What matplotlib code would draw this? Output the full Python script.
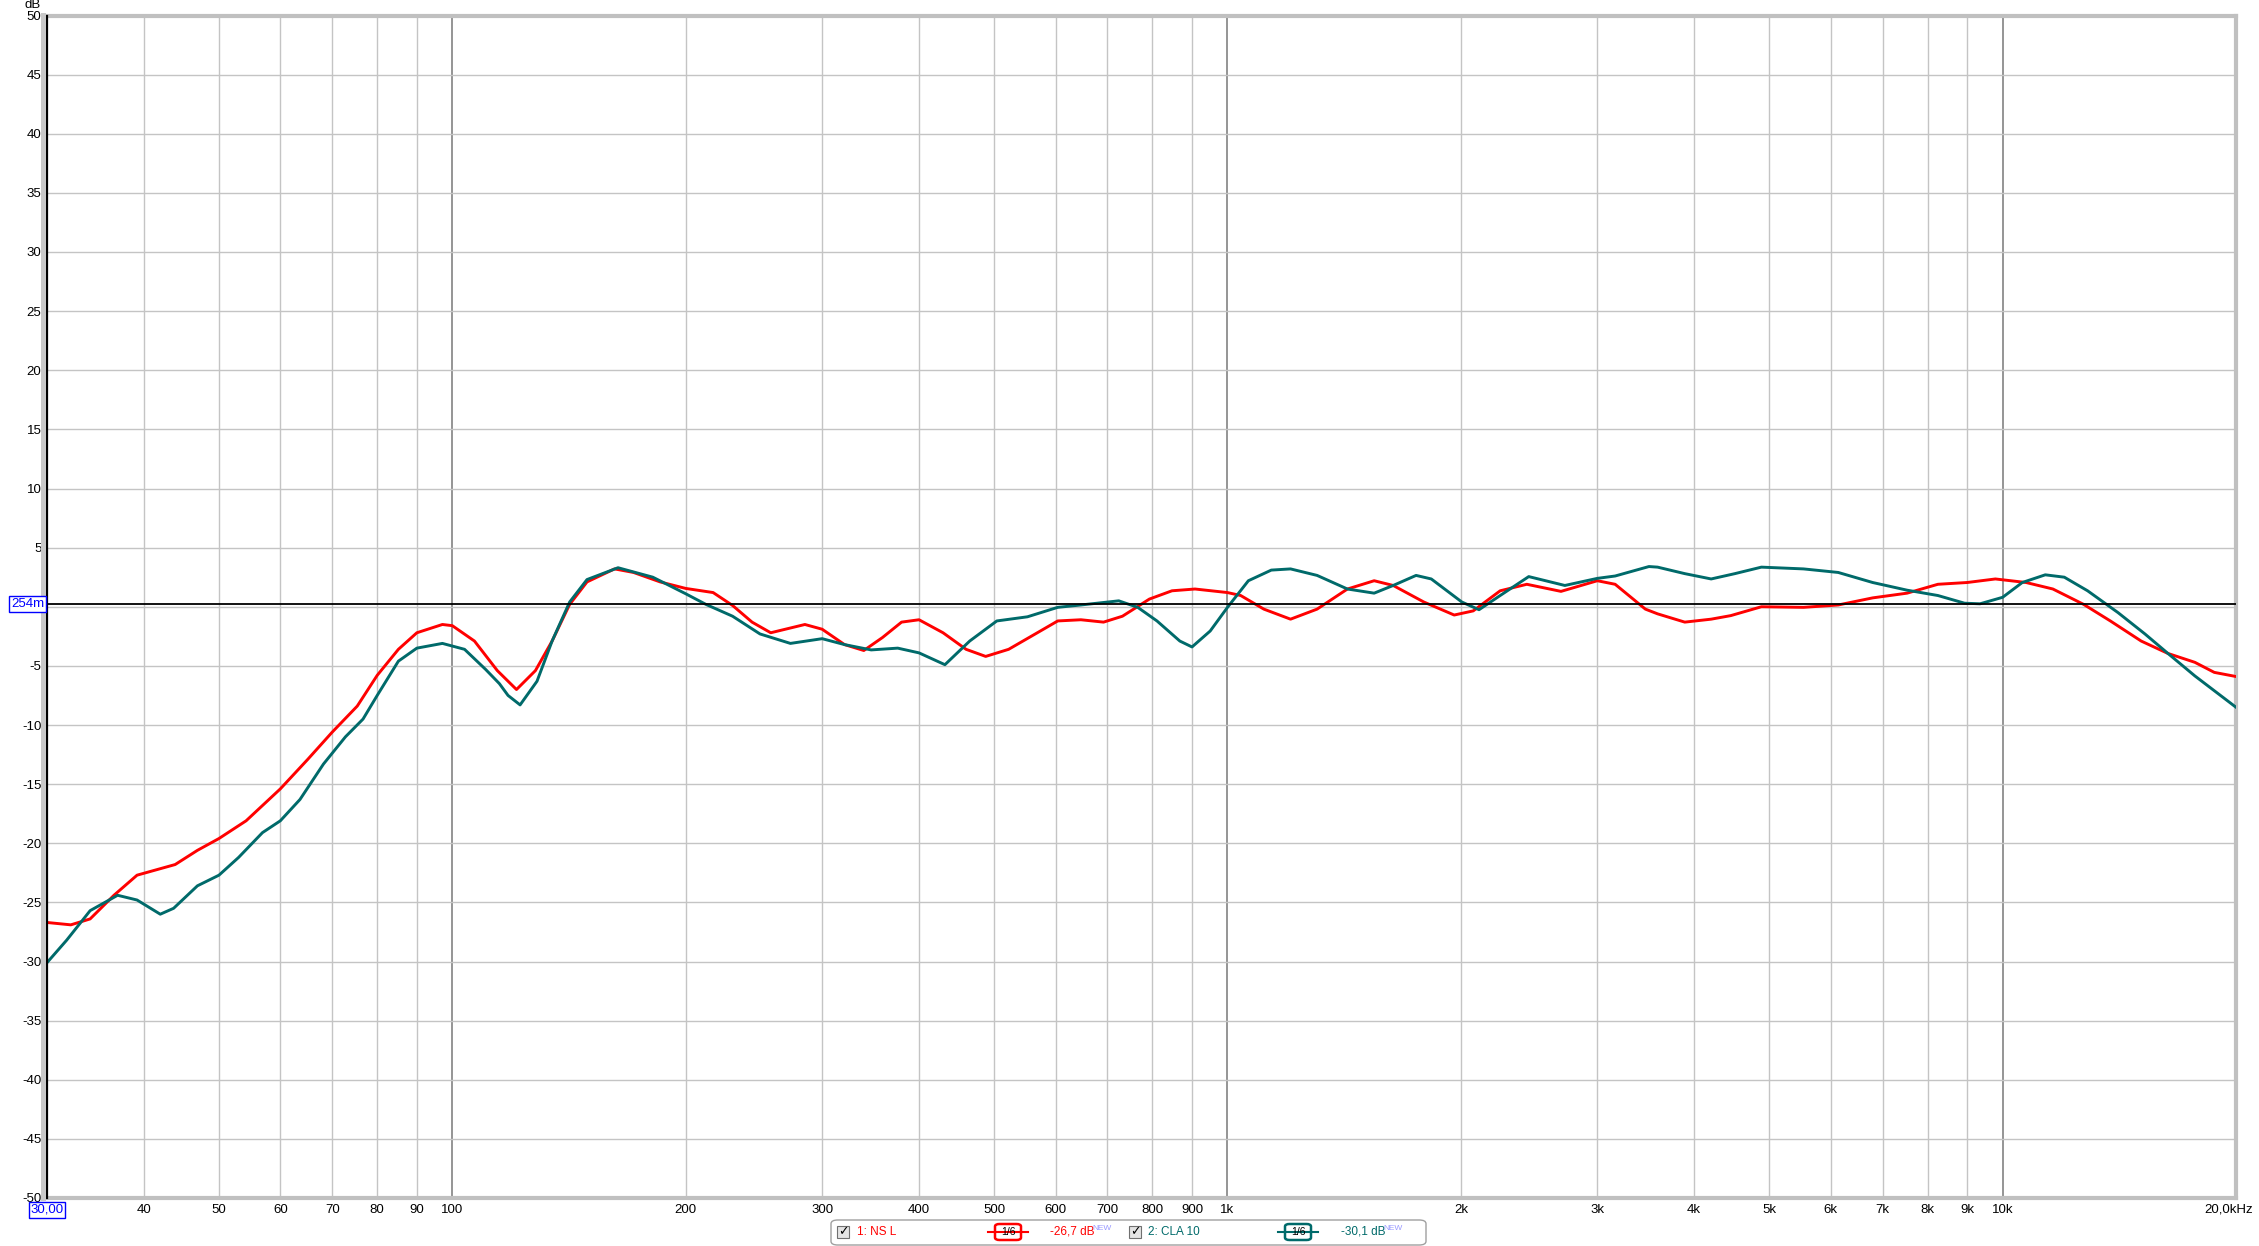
import matplotlib.pyplot as plt
from matplotlib.ticker import NullLocator
from matplotlib.patches import Rectangle, FancyBboxPatch
from matplotlib.lines import Line2D

plt.rcParams['font.family'] = ['Liberation Sans', 'DejaVu Sans']

# measurement 1: NS L (red)
freq_ns = [30, 32.2, 34.1, 36.6, 39.2, 43.9, 46.9, 50, 54.2, 60, 65.1, 70, 75.4, 80, 85.2, 90,
           97.1, 100, 106.8, 114.3, 121, 128, 134.5, 141.7, 149.2, 161.9, 171.3, 185.4, 200,
           217, 230, 243.6, 257.5, 285, 300, 320.6, 339.5, 358.9, 379.8, 400, 429.6, 460, 487.6,
           522, 565, 604, 647, 692, 732, 793, 848, 908, 1000, 1040, 1114, 1206, 1305, 1428,
           1546, 1636, 1792, 1961, 2075, 2248, 2433, 2693, 3000, 3163, 3460, 3588, 3890, 4207,
           4459, 4884, 5535, 6136, 6797, 7530, 8250, 9000, 9786, 10720, 11610, 12720, 13770,
           15090, 16340, 17700, 18750, 20000]
db_ns = [-26.7, -26.9, -26.4, -24.4, -22.7, -21.8, -20.6, -19.6, -18.1, -15.4, -12.9, -10.6, -8.4,
         -5.8, -3.6, -2.2, -1.5, -1.6, -2.9, -5.4, -7.0, -5.4, -2.9, 0.2, 2.1, 3.2, 2.9, 2.1, 1.55,
         1.2, 0.1, -1.3, -2.2, -1.5, -1.9, -3.2, -3.7, -2.6, -1.3, -1.1, -2.2, -3.6, -4.2,
         -3.6, -2.3, -1.2, -1.1, -1.3, -0.8, 0.65, 1.35, 1.5, 1.2, 0.95, -0.2, -1.05, -0.2, 1.5,
         2.2, 1.8, 0.4, -0.7, -0.35, 1.35, 1.9, 1.3, 2.2, 1.9, -0.2, -0.6, -1.3, -1.05,
         -0.75, 0.0, -0.05, 0.15, 0.75, 1.15, 1.9, 2.05, 2.35, 2.05, 1.5, 0.2, -1.2,
         -2.9, -3.95, -4.7, -5.55, -5.9]

# measurement 2: CLA 10 (teal)
freq_cla = [30, 31.8, 34.1, 37.0, 39.2, 42.0, 43.7, 46.9, 50, 53, 56.9, 60, 63.6, 68.2, 72.8, 76.7,
            80, 85.2, 90, 97.1, 103.7, 110.4, 115, 118, 122.3, 128.6, 134.5, 141.7, 149.2, 163.6,
            181.4, 200, 212.4, 229.9, 249.4, 273, 300, 320.6, 347, 375.5, 400, 432, 465, 504, 552,
            604, 647, 724, 766, 811, 868, 900, 950, 1000, 1064, 1139, 1206, 1305, 1428, 1546,
            1636, 1751, 1832, 2006, 2111, 2248, 2447, 2724, 3000, 3163, 3497, 3588, 3890, 4207,
            4514, 4884, 5535, 6136, 6797, 7530, 8250, 8930, 9350, 10000, 10600, 11350, 12010,
            12870, 14090, 15260, 16340, 17700, 18750, 20000]
db_cla = [-30.1, -28.2, -25.7, -24.4, -24.8, -26.0, -25.5, -23.6, -22.7, -21.2, -19.1, -18.1, -16.3,
          -13.3, -11.0, -9.5, -7.5, -4.6, -3.5, -3.1, -3.6, -5.3, -6.5, -7.5, -8.3, -6.3, -2.9,
          0.4, 2.3, 3.3, 2.5, 1.1, 0.2, -0.8, -2.3, -3.1, -2.7, -3.2, -3.65, -3.5, -3.9, -4.9,
          -2.9, -1.2, -0.85, -0.05, 0.15, 0.5, -0.05, -1.2, -2.9, -3.4, -2.05, -0.05, 2.2, 3.1,
          3.2, 2.65, 1.5, 1.15, 1.8, 2.65, 2.35, 0.4, -0.25, 0.95, 2.55, 1.8, 2.4, 2.6, 3.4,
          3.35, 2.8, 2.35, 2.8, 3.35, 3.2, 2.9, 2.05, 1.4, 0.95, 0.3, 0.25, 0.8, 2.05, 2.7,
          2.5, 1.35, -0.5, -2.3, -3.95, -5.85, -7.1, -8.5]

cursor_db = 0.254
minor_freqs = [40, 50, 60, 70, 80, 90, 200, 300, 400, 500, 600, 700, 800, 900,
               2000, 3000, 4000, 5000, 6000, 7000, 8000, 9000]
major_freqs = [100, 1000, 10000]
xtick_freqs = [40, 50, 60, 70, 80, 90, 100, 200, 300, 400, 500, 600, 700, 800, 900, 1000,
               2000, 3000, 4000, 5000, 6000, 7000, 8000, 9000, 10000]
xtick_labels = ['40', '50', '60', '70', '80', '90', '100', '200', '300', '400', '500', '600',
                '700', '800', '900', '1k', '2k', '3k', '4k', '5k', '6k', '7k', '8k', '9k', '10k']
db_ticks = list(range(-50, 55, 5))
# the "0" label sits under the cursor readout box, so it is not shown
db_labels = ['' if d == 0 else str(d) for d in db_ticks]

W, H = 2259, 1246
fig = plt.figure(figsize=(W / 100, H / 100), dpi=100)


def fx(px):
    return px / W


def fy(py):
    return 1 - py / H


L, R, T, B = 47, 2236, 15.5, 1198
ax = fig.add_axes([fx(L), fy(B), fx(R) - fx(L), fy(T) - fy(B)])
ax.set_xscale('log')
ax.set_xlim(30, 20000)
ax.set_ylim(-50, 50)

# grid
for f in minor_freqs:
    ax.axvline(f, color='#c4c4c4', lw=1.0, zorder=1)
for f in major_freqs:
    ax.axvline(f, color='#8c8c8c', lw=1.3, zorder=1)
for d in db_ticks:
    ax.axhline(d, color='#c4c4c4', lw=1.0, zorder=1)

ax.plot(freq_ns, db_ns, color='#ff0000', lw=2.1, zorder=4, solid_joinstyle='round')
ax.plot(freq_cla, db_cla, color='#006a6a', lw=2.1, zorder=4, solid_joinstyle='round')
ax.axhline(cursor_db, color='black', lw=1.3, zorder=5)

ax.set_xticks(xtick_freqs, xtick_labels)
ax.xaxis.set_minor_locator(NullLocator())
ax.set_yticks(db_ticks, db_labels)
ax.tick_params(length=0, labelsize=9.5, colors='black')
ax.tick_params(axis='x', pad=4)
ax.tick_params(axis='y', pad=4)

for s in ['top', 'right', 'bottom']:
    ax.spines[s].set_color('#c0c0c0')
    ax.spines[s].set_linewidth(3)
ax.spines['left'].set_color('black')
ax.spines['left'].set_linewidth(1.6)
ax.spines['left'].set_zorder(6)

# shadow band left of the axis line
fig.add_artist(Rectangle((fx(41), fy(1201)), fx(5), fy(13) - fy(1201),
                         facecolor='#c8c8c8', edgecolor='none'))

fig.text(fx(33), fy(5), 'dB', fontsize=9.5, ha='center', va='center')
fig.text(fx(47), fy(1210), '30,00', fontsize=9.5, color='#0000ff', ha='center', va='center',
         bbox=dict(boxstyle='square,pad=0.12', fc='white', ec='#0000ff', lw=1.0))
fig.text(fx(44), fy(604), '254m', fontsize=9.5, color='#0000ff', ha='right', va='center',
         bbox=dict(boxstyle='square,pad=0.12', fc='white', ec='#0000ff', lw=1.0))
fig.text(fx(2253), fy(1210), '20,0kHz', fontsize=9.5, ha='right', va='center')

# legend strip
fig.add_artist(FancyBboxPatch((fx(831), fy(1245)), fx(1426) - fx(831), fy(1220) - fy(1245),
                              boxstyle='round,pad=0,rounding_size=0.003',
                              facecolor='white', edgecolor='#a0a0a0', lw=1.0))
ly = fy(1232)


def legend_entry(x_chk, x_name, name, x_box, x_val, val, color):
    fig.add_artist(Rectangle((fx(x_chk), fy(1238)), fx(12), fy(1226) - fy(1238),
                             facecolor='#e4e4e4', edgecolor='#707070', lw=0.8))
    fig.text(fx(x_chk + 6), ly, '\u2713', fontsize=9, ha='center', va='center',
             family=['DejaVu Sans'], fontweight='bold')
    fig.text(fx(x_name), ly, name, fontsize=8.5, color=color, ha='left', va='center')
    fig.add_artist(Line2D([fx(x_box - 7), fx(x_box + 33)], [ly, ly], color=color, lw=1.5))
    fig.add_artist(FancyBboxPatch((fx(x_box), fy(1240)), fx(26), fy(1224) - fy(1240),
                                  boxstyle='round,pad=0,rounding_size=0.002',
                                  facecolor='white', edgecolor=color, lw=1.8))
    fig.text(fx(x_box + 13), ly, '1/6', fontsize=7.5, ha='center', va='center', zorder=10)
    fig.text(fx(x_val), ly, val, fontsize=8.5, color=color, ha='left', va='center')
    fig.text(fx(x_val + 42), fy(1228), 'NEW', fontsize=6, color='#9a9aff', ha='left', va='center')


legend_entry(837, 857, '1: NS L', 995, 1050, '-26,7 dB', '#ff0000')
legend_entry(1129, 1148, '2: CLA 10', 1285, 1341, '-30,1 dB', '#006a6a')

fig.savefig('out.png', dpi=100)
